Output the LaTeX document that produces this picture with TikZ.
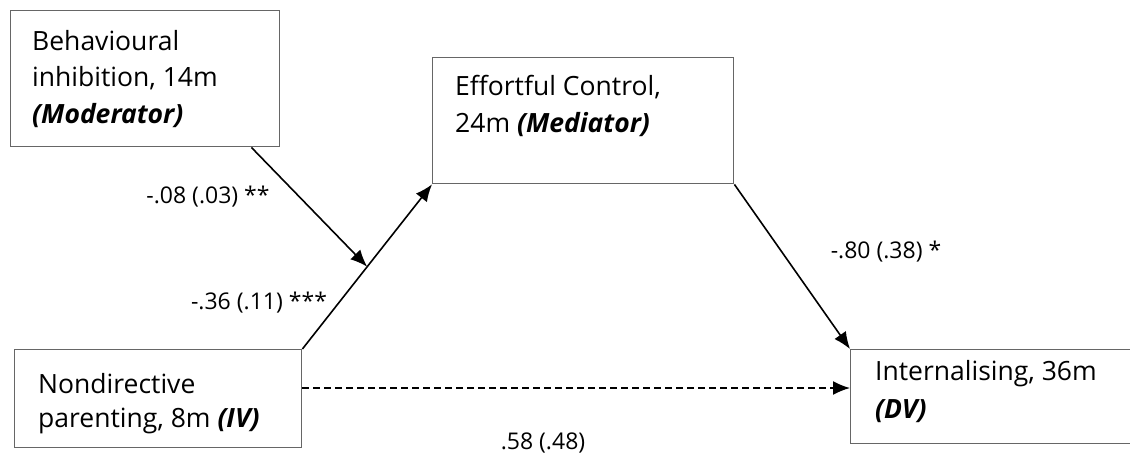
\documentclass[tikz,border=0pt]{standalone}
\usepackage{fontspec}
\setmainfont{Open Sans}
\usetikzlibrary{arrows.meta,calc}
\tikzset{
  box/.style={draw=black!60, line width=1.4pt, rectangle, inner sep=0pt, anchor=north west},
  lbl/.style={anchor=base west, inner sep=0pt, align=left, font=\fontsize{26.5}{36.5}\selectfont},
  path/.style={draw=black, line width=1.6pt, -{Latex[length=17pt,width=14pt]}},
  nspath/.style={path, dash pattern=on 6.5pt off 4.5pt},
  coef/.style={inner sep=0pt, font=\fontsize{23}{28}\selectfont}
}
\newcommand{\role}[1]{\textbf{\textit{#1}}}
\begin{document}
\begin{tikzpicture}[x=1pt,y=-1pt]
  \useasboundingbox (0,0) rectangle (1130,456);
  \clip (0,0) rectangle (1130,456);
  \fill[white] (0,0) rectangle (1130,456);

  % variables
  \node[box, minimum width=269pt, minimum height=136pt] (bi) at (10,10) {};
  \node[box, minimum width=301pt, minimum height=126pt] (ec) at (432,57) {};
  \node[box, minimum width=287pt, minimum height=98pt] (nd) at (14,349) {};
  \node[box, minimum width=320pt, minimum height=94pt] (int) at (850,349) {};

  % labels: the anchor sits on the baseline of the last line
  \node[lbl] (bi-t) at (32,123) {Behavioural\\inhibition, 14m\\\role{(Moderator)}};
  \node[lbl] (ec-t) at (455,132) {Effortful Control,\\24m \role{(Mediator)}};
  \node[lbl, font=\fontsize{26.5}{34}\selectfont] (nd-t) at (38,427) {Nondirective\\parenting, 8m \role{(IV)}};
  \node[lbl, font=\fontsize{26.5}{38}\selectfont] (int-t) at (875,418) {Internalising, 36m\\\role{(DV)}};

  % paths
  \coordinate (mid) at ($(nd.north east)!0.5!(ec.south west)$);
  \coordinate (bi-out) at ($(bi.south east)+(-29,0)$);
  \draw[path] (nd.north east) -- (ec.south west);
  \draw[path] (bi-out) -- (mid);
  \draw[path] (ec.south east) -- (int.north west);
  \draw[nspath] (nd.east |- 0,388) -- (int.west |- 0,388);

  % coefficients
  \node[coef] (c-mod) at (208,197) {-.08 (.03) **};
  \node[coef] (c-a) at (259,303) {-.36 (.11) ***};
  \node[coef] (c-b) at (886,252) {-.80 (.38) *};
  \node[coef] (c-c) at (543,443) {.58 (.48)};
\end{tikzpicture}
\end{document}
